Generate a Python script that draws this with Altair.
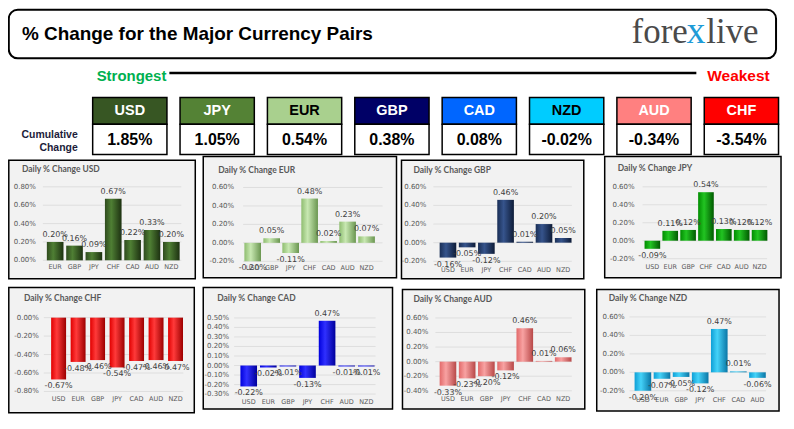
import altair as alt
import pandas as pd

# ---------------- data ----------------
currencies = ["USD", "JPY", "EUR", "GBP", "CAD", "NZD", "AUD", "CHF"]
cumulative = [1.85, 1.05, 0.54, 0.38, 0.08, -0.02, -0.34, -3.54]

usd_cats = ["EUR", "GBP", "JPY", "CHF", "CAD", "AUD", "NZD"]
usd_vals = [0.20, 0.16, 0.09, 0.67, 0.22, 0.33, 0.20]
usd_ticks = [0.0, 0.2, 0.4, 0.6, 0.8]

eur_cats = ["USD", "GBP", "JPY", "CHF", "CAD", "AUD", "NZD"]
eur_vals = [-0.20, 0.05, -0.11, 0.48, 0.02, 0.23, 0.07]
eur_ticks = [-0.2, 0.0, 0.2, 0.4, 0.6]

gbp_cats = ["USD", "EUR", "JPY", "CHF", "CAD", "AUD", "NZD"]
gbp_vals = [-0.16, -0.05, -0.12, 0.46, 0.01, 0.20, 0.05]
gbp_ticks = [-0.2, 0.0, 0.2, 0.4, 0.6]

jpy_cats = ["USD", "EUR", "GBP", "CHF", "CAD", "AUD", "NZD"]
jpy_vals = [-0.09, 0.11, 0.12, 0.54, 0.13, 0.12, 0.12]
jpy_ticks = [-0.2, 0.0, 0.2, 0.4, 0.6]

chf_cats = ["USD", "EUR", "GBP", "JPY", "CAD", "AUD", "NZD"]
chf_vals = [-0.67, -0.48, -0.46, -0.54, -0.47, -0.46, -0.47]
chf_ticks = [-0.8, -0.6, -0.4, -0.2, 0.0]

cad_cats = ["USD", "EUR", "GBP", "JPY", "CHF", "AUD", "NZD"]
cad_vals = [-0.22, -0.02, -0.01, -0.13, 0.47, -0.01, -0.01]
cad_ticks = [-0.3, -0.2, -0.1, 0.0, 0.1, 0.2, 0.3, 0.4, 0.5]

aud_cats = ["USD", "EUR", "GBP", "JPY", "CHF", "CAD", "NZD"]
aud_vals = [-0.33, -0.23, -0.20, -0.12, 0.46, 0.01, 0.06]
aud_ticks = [-0.4, -0.2, 0.0, 0.2, 0.4, 0.6]

nzd_cats = ["USD", "EUR", "GBP", "JPY", "CHF", "CAD", "AUD"]
nzd_vals = [-0.20, -0.07, -0.05, -0.12, 0.47, 0.01, -0.06]
nzd_ticks = [-0.2, 0.0, 0.2, 0.4, 0.6]

# ---------------- styles ----------------
header_colors = ["#375623", "#548235", "#a9d08e", "#000066", "#0066ff", "#00ccff", "#ff8080", "#ff0000"]
header_text_colors = ["#ffffff", "#ffffff", "#000000", "#ffffff", "#ffffff", "#000000", "#ffffff", "#ffffff"]

BOLDF = "Liberation Sans"
SMALL = "DejaVu Sans"
TITLEF = "Lato"

OX, OY, SY = 6.0, 6.0, 0.975
W, H = 781, 406


def px(X):
    return round(max(X - OX, 0.8), 2)


def py(Y):
    return round(max((Y - OY) * SY, 0.8), 2)


one = pd.DataFrame({"k": [0]})


def box(x0, y0, x1, y1, **kw):
    return alt.Chart(one).mark_rect(**kw).encode(
        x=alt.value(px(x0)), x2=alt.value(px(x1)),
        y=alt.value(py(y0)), y2=alt.value(py(y1)))


def label(text, X, Y, **kw):
    return alt.Chart(one).mark_text(text=text, **kw).encode(
        x=alt.value(px(X)), y=alt.value(py(Y)))


def hline(x0, x1, Y, **kw):
    return alt.Chart(one).mark_rule(**kw).encode(
        x=alt.value(px(x0)), x2=alt.value(px(x1)), y=alt.value(py(Y)))


def grad(c0, c1, c2):
    return alt.LinearGradient(
        gradient="linear", x1=0, x2=1, y1=0, y2=0,
        stops=[alt.GradientStop(color=c0, offset=0),
               alt.GradientStop(color=c1, offset=0.38),
               alt.GradientStop(color=c2, offset=1)])


# ---------------- header ----------------
hdf = pd.DataFrame({"cur": currencies,
                    "cum": [f"{v:.2f}%" for v in cumulative]})
cur_x = alt.X("cur:N", axis=None,
              scale=alt.Scale(domain=currencies, range=[px(91), px(779.5)],
                              paddingInner=0.15, paddingOuter=0))

head_cells = alt.Chart(hdf).mark_rect(stroke="black", strokeWidth=1.5).encode(
    x=cur_x, y=alt.value(py(97.3)), y2=alt.value(py(125)),
    color=alt.Color("cur:N", legend=None,
                    scale=alt.Scale(domain=currencies, range=header_colors)))
val_cells = alt.Chart(hdf).mark_rect(stroke="black", strokeWidth=1.5, fill="white").encode(
    x=cur_x, y=alt.value(py(125)), y2=alt.value(py(156)))
head_txt = alt.Chart(hdf).mark_text(font=BOLDF, fontWeight="bold", fontSize=14.5,
                                     baseline="middle").encode(
    x=cur_x, y=alt.value(py(111.5)), text="cur:N",
    fill=alt.Fill("cur:N", legend=None,
                  scale=alt.Scale(domain=currencies, range=header_text_colors)))
val_txt = alt.Chart(hdf).mark_text(font=BOLDF, fontWeight="bold", fontSize=16,
                                    baseline="middle", color="black").encode(
    x=cur_x, y=alt.value(py(141)), text="cum:N")

header = alt.layer(
    box(6, 7, 777, 57, fill="white", stroke="black", strokeWidth=2, cornerRadius=9),
    label("% Change for the Major Currency Pairs", 20, 38.5, font=BOLDF, fontWeight="bold",
          fontSize=19, align="left", baseline="alphabetic", color="black"),
    label("fore", 632, 41, font="Liberation Serif", fontSize=35, align="left",
          baseline="alphabetic", color="#4a4a4a"),
    label("x", 687, 41, font="Liberation Serif", fontSize=38, align="left",
          baseline="alphabetic", color="#1e9bd7"),
    label("live", 707, 41, font="Liberation Serif", fontSize=35, align="left",
          baseline="alphabetic", color="#4a4a4a"),
    label("Strongest", 95, 75, font=BOLDF, fontWeight="bold", fontSize=15,
          align="left", baseline="middle", color="#00b050"),
    label("Weakest", 708, 75, font=BOLDF, fontWeight="bold", fontSize=15.5,
          align="left", baseline="middle", color="#ff0000"),
    hline(168, 697, 72, color="black", strokeWidth=2.5),
    label("Cumulative", 76, 136, font=BOLDF, fontWeight="bold", fontSize=10.5,
          align="right", baseline="middle", color="#1c1c3a"),
    label("Change", 76, 149, font=BOLDF, fontWeight="bold", fontSize=10.5,
          align="right", baseline="middle", color="#1c1c3a"),
    head_cells, val_cells, head_txt, val_txt,
    hline(605, 782, 159.3, color="black", strokeWidth=1.5),
).resolve_scale(color="independent")


# ---------------- panels ----------------
def panel(name, cats, vals, ticks, bx, title_xy, ymap, grid, lab_r, cat_y, bars, fill):
    t0, Y0, t1, Y1 = ymap
    dmin, dmax = min(ticks), max(ticks)
    slope = (Y1 - Y0) / (t1 - t0)
    Ymin = Y0 + (dmin - t0) * slope
    Ymax = Y0 + (dmax - t0) * slope
    ysc = alt.Scale(domain=[dmin, dmax], range=[py(Ymin), py(Ymax)], nice=False, zero=False)

    first_left, last_right, bw = bars
    n = len(cats)
    pitch = (last_right - bw - first_left) / (n - 1)
    gap = pitch - bw
    pin = gap / pitch
    xsc = alt.Scale(domain=cats, range=[px(first_left - gap / 2), px(last_right + gap / 2)],
                    paddingInner=pin, paddingOuter=pin / 2)
    X = alt.X("cat:N", scale=xsc, axis=None)

    df = pd.DataFrame({"cat": cats, "val": vals, "lbl": [f"{v:.2f}%" for v in vals]})
    tdf = pd.DataFrame({"v": ticks, "tl": [f"{t:.2f}%" for t in ticks]})

    bg = box(*bx, fill="#f2f2f2", stroke="black", strokeWidth=1.5)
    gl = alt.Chart(tdf).mark_rule(color="#d9d9d9", strokeWidth=0.8).encode(
        y=alt.Y("v:Q", scale=ysc, axis=None),
        x=alt.value(px(grid[0])), x2=alt.value(px(grid[1])))
    tl = alt.Chart(tdf).mark_text(align="right", baseline="middle", font=SMALL,
                                   fontSize=7, color="#595959").encode(
        y=alt.Y("v:Q", scale=ysc, axis=None), x=alt.value(px(lab_r)), text="tl:N")
    br = alt.Chart(df).mark_bar(color=fill).encode(
        x=X, y=alt.Y("val:Q", scale=ysc, axis=None), y2=alt.datum(0))
    pos = alt.Chart(df).transform_filter("datum.val >= 0").mark_text(
        baseline="bottom", dy=-3, font=SMALL, fontSize=8, color="#404040").encode(
        x=X, y=alt.Y("val:Q", scale=ysc, axis=None), text="lbl:N")
    neg = alt.Chart(df).transform_filter("datum.val < 0").mark_text(
        baseline="top", dy=3, font=SMALL, fontSize=8, color="#404040").encode(
        x=X, y=alt.Y("val:Q", scale=ysc, axis=None), text="lbl:N")
    cl = alt.Chart(df).mark_text(baseline="middle", font=SMALL, fontSize=6.5,
                                  color="#595959").encode(
        x=X, y=alt.value(py(cat_y)), text="cat:N")
    tt = label(f"Daily % Change {name}", title_xy[0], title_xy[1], font=TITLEF,
               fontWeight="bold", fontSize=8.5, align="left", baseline="middle",
               color="#595959")
    return alt.layer(bg, gl, tl, br, pos, neg, cl, tt)


panels = [
    panel("USD", usd_cats, usd_vals, usd_ticks, (5, 162, 194, 284), (20, 171),
          (0.0, 265.0, 0.8, 189.3), (41, 180), 34, 272, (45, 178.3, 16.7),
          grad("#2f4b1e", "#4f7f34", "#1d3111")),
    panel("EUR", eur_cats, eur_vals, eur_ticks, (202, 158, 396, 283), (217, 172),
          (-0.2, 266.0, 0.6, 190.0), (242, 382), 233, 273.3, (243.3, 374.3, 16.7),
          grad("#8fbd70", "#c8e8b2", "#6a9650")),
    panel("GBP", gbp_cats, gbp_vals, gbp_ticks, (401, 162, 584, 284), (413, 172),
          (-0.2, 266.0, 0.6, 189.3), (433, 572), 426, 275, (439.3, 571.7, 16.7),
          grad("#1a2f56", "#36548c", "#0e1c38")),
    panel("JPY", jpy_cats, jpy_vals, jpy_ticks, (605, 158, 782, 283), (618, 170),
          (-0.2, 263.3, 0.6, 189.3), (643, 768), 635, 272.3, (645, 768.3, 15.7),
          grad("#008c00", "#22c422", "#005a00")),
    panel("CHF", chf_cats, chf_vals, chf_ticks, (5, 293, 193, 422), (22, 304),
          (-0.8, 400.0, 0.0, 324.0), (42, 182), 37, 407.7, (49.3, 181.7, 15),
          grad("#e00000", "#ff3a3a", "#9c0000")),
    panel("CAD", cad_cats, cad_vals, cad_ticks, (202, 293, 392, 418), (216, 304),
          (-0.3, 402.7, 0.5, 324.3), (233, 375), 228, 411, (239.3, 374, 16.7),
          grad("#0000dc", "#3030ff", "#00009c")),
    panel("AUD", aud_cats, aud_vals, aud_ticks, (402, 295, 585, 418), (413, 305),
          (-0.4, 399.3, 0.6, 324.3), (435, 572), 428, 408, (439.3, 571.7, 16.7),
          grad("#e26a6a", "#f8a2a2", "#b84848")),
    panel("NZD", nzd_cats, nzd_vals, nzd_ticks, (597, 295, 780, 420), (609, 304),
          (-0.2, 399.3, 0.6, 323.3), (630, 767), 625, 409, (635, 766.7, 16.7),
          grad("#0e9fd6", "#44d2f8", "#0a76a6")),
]

chart = alt.layer(header, *panels).resolve_scale(
    x="independent", y="independent", color="independent", fill="independent"
).properties(
    width=W, height=H, padding=0,
    autosize=alt.AutoSizeParams(type="none"),
).configure_view(stroke=None)

chart.save("out.html", embed_options={"renderer": "svg", "actions": False})
